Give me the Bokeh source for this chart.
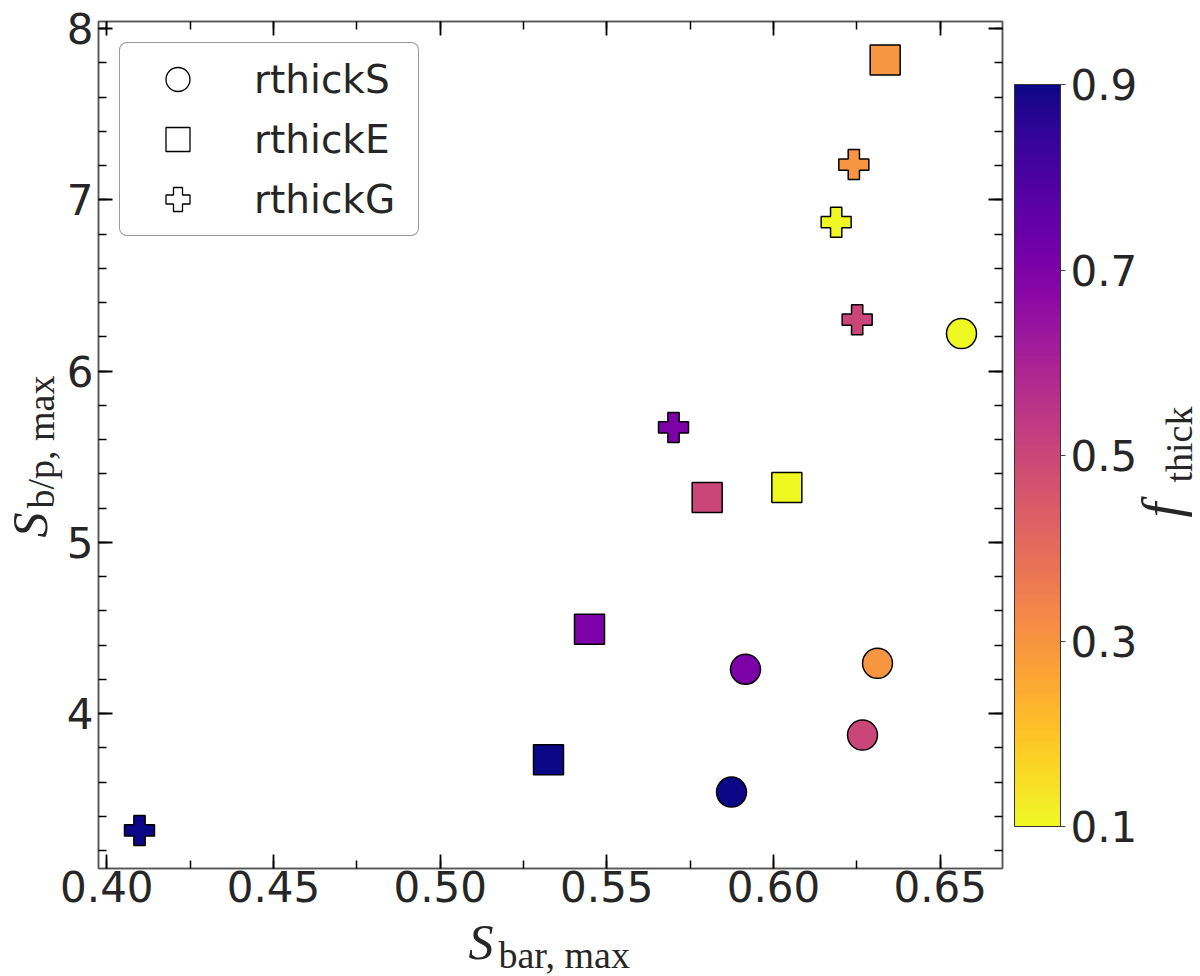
import numpy as np
from math import pi

from bokeh.plotting import figure
from bokeh.embed import file_html
from bokeh.resources import INLINE
from bokeh.models import (ColumnDataSource, Legend, LegendItem, ColorBar, LinearAxis,
                          FixedTicker, PrintfTickFormatter, Label, Range1d)
from bokeh.transform import linear_cmap
from bokeh.palettes import Plasma256

# f_thick of each model (same for all three families)
f_thick = [0.9, 0.7, 0.5, 0.3, 0.1]

# rthickS (circles)
s_bar_S = [0.5874, 0.5916, 0.6267, 0.6312, 0.6564]
s_bp_S = [3.542, 4.259, 3.875, 4.294, 6.219]

# rthickE (squares)
s_bar_E = [0.5325, 0.5448, 0.5801, 0.6335, 0.6040]
s_bp_E = [3.731, 4.493, 5.262, 7.816, 5.321]

# rthickG (crosses)
s_bar_G = [0.4098, 0.5700, 0.6251, 0.6241, 0.6188]
s_bp_G = [3.318, 5.671, 6.300, 7.206, 6.869]

x_ticks = [0.40, 0.45, 0.50, 0.55, 0.60, 0.65]
y_ticks = [4, 5, 6, 7, 8]
cbar_ticks = [0.1, 0.3, 0.5, 0.7, 0.9]

X_RANGE = (0.3975, 0.6687)
Y_RANGE = (3.096, 8.041)

TXT = "#262626"
palette = list(reversed(Plasma256))
cmap = linear_cmap("f", palette, 0.1, 0.9)

p = figure(width=1200, height=976, x_range=Range1d(*X_RANGE), y_range=Range1d(*Y_RANGE),
           output_backend="svg", toolbar_location=None,
           min_border_left=98, min_border_right=198, min_border_top=21, min_border_bottom=108)
p.grid.visible = False
p.background_fill_color = "white"
p.border_fill_color = "white"
p.outline_line_color = "#555555"
p.outline_line_width = 1.5

# frame position in the picture, used to place the math labels outside it
FX0, FX1, FY0, FY1 = 98, 1002, 21, 868


def sx(px):
    return X_RANGE[0] + (px - FX0) / (FX1 - FX0) * (X_RANGE[1] - X_RANGE[0])


def sy(py):
    return Y_RANGE[1] - (py - FY0) / (FY1 - FY0) * (Y_RANGE[1] - Y_RANGE[0])


x_ticker = FixedTicker(ticks=x_ticks, minor_ticks=list(np.round(np.arange(0.375, 0.7, 0.025), 3)))
y_ticker = FixedTicker(ticks=y_ticks, minor_ticks=list(np.round(np.arange(3.0, 8.3, 0.2), 1)))


def style_axis(ax, show_labels=True):
    ax.major_tick_in = 14
    ax.major_tick_out = 0
    ax.minor_tick_in = 8
    ax.minor_tick_out = 0
    ax.major_tick_line_color = "black"
    ax.major_tick_line_width = 1.8
    ax.minor_tick_line_color = "black"
    ax.minor_tick_line_width = 1.5
    ax.axis_line_color = "#555555"
    ax.axis_line_width = 1.5
    if show_labels:
        ax.major_label_text_font = "DejaVu Sans"
        ax.major_label_text_color = TXT
        ax.major_label_text_font_size = "42px"
    else:
        ax.major_label_text_color = None
        ax.major_label_standoff = 0


p.xaxis.ticker = x_ticker
p.xaxis.formatter = PrintfTickFormatter(format="%.2f")
p.yaxis.ticker = y_ticker
p.yaxis.formatter = PrintfTickFormatter(format="%d")
style_axis(p.xaxis[0])
style_axis(p.yaxis[0])
p.xaxis.major_label_standoff = 2
p.yaxis.major_label_standoff = 5

top = LinearAxis(ticker=x_ticker)
right = LinearAxis(ticker=y_ticker)
style_axis(top, False)
style_axis(right, False)
p.add_layout(top, "above")
p.add_layout(right, "right")

src_S = ColumnDataSource(dict(x=s_bar_S, y=s_bp_S, f=f_thick))
src_E = ColumnDataSource(dict(x=s_bar_E, y=s_bp_E, f=f_thick))
src_G = ColumnDataSource(dict(x=s_bar_G, y=s_bp_G, f=f_thick))

for src, marker in [(src_S, "circle"), (src_E, "square"), (src_G, "plus")]:
    p.scatter("x", "y", source=src, marker=marker, size=30, fill_color=cmap,
              line_color="black", line_width=1.5)

# hollow markers for the legend (one point off the chart so the legend draws them)
items = []
for name, marker in [("rthickS", "circle"), ("rthickE", "square"), ("rthickG", "plus")]:
    r = p.scatter(x=[np.nan], y=[np.nan], marker=marker, size=30, fill_color="white",
                  line_color="black", line_width=1.3)
    items.append(LegendItem(label=name, renderers=[r]))

legend = Legend(items=items, location="top_left", margin=21, padding=6, spacing=0,
                glyph_width=103, glyph_height=60, label_standoff=25, label_width=158,
                label_text_font="DejaVu Sans", label_text_font_size="39px",
                label_text_color=TXT, border_line_color="#333333", border_line_width=1.3,
                border_radius=8, background_fill_color="white", background_fill_alpha=1)
p.add_layout(legend)

color_bar = ColorBar(color_mapper=cmap["transform"], location=(916, 42), width=46, height=742,
                     margin=0, padding=0, ticker=FixedTicker(ticks=cbar_ticks),
                     formatter=PrintfTickFormatter(format="%.1f"),
                     major_tick_in=0, major_tick_out=5, major_tick_line_color="#444444",
                     minor_tick_line_color=None, label_standoff=5,
                     major_label_text_font="DejaVu Sans", major_label_text_font_size="42px",
                     major_label_text_color=TXT, bar_line_color="#333333", bar_line_width=1,
                     background_fill_color=None)
p.add_layout(color_bar)

# math-style axis titles; kept in side panels so the frame does not clip them
serif = "Liberation Serif"


def math_label(px, py, text, size, italic, side, angle=0.0):
    lab = Label(x=sx(px), y=sy(py), angle=angle, text=text, text_font=serif,
                text_font_style="italic" if italic else "normal", text_font_size=size,
                text_color=TXT, text_baseline="middle", text_align="left")
    p.add_layout(lab, side)


math_label(468, 941, "S", "50px", True, "right")
math_label(498, 954, "bar, max", "38px", False, "below")
math_label(29, 537, "S", "50px", True, "left", pi / 2)
math_label(40, 508, "b/p, max", "38px", False, "right", pi / 2)
math_label(1161, 517, "f", "54px", True, "right", pi / 2)
math_label(1178, 482, "thick", "38px", False, "right", pi / 2)

open("out.html", "w").write(file_html(p, INLINE))
